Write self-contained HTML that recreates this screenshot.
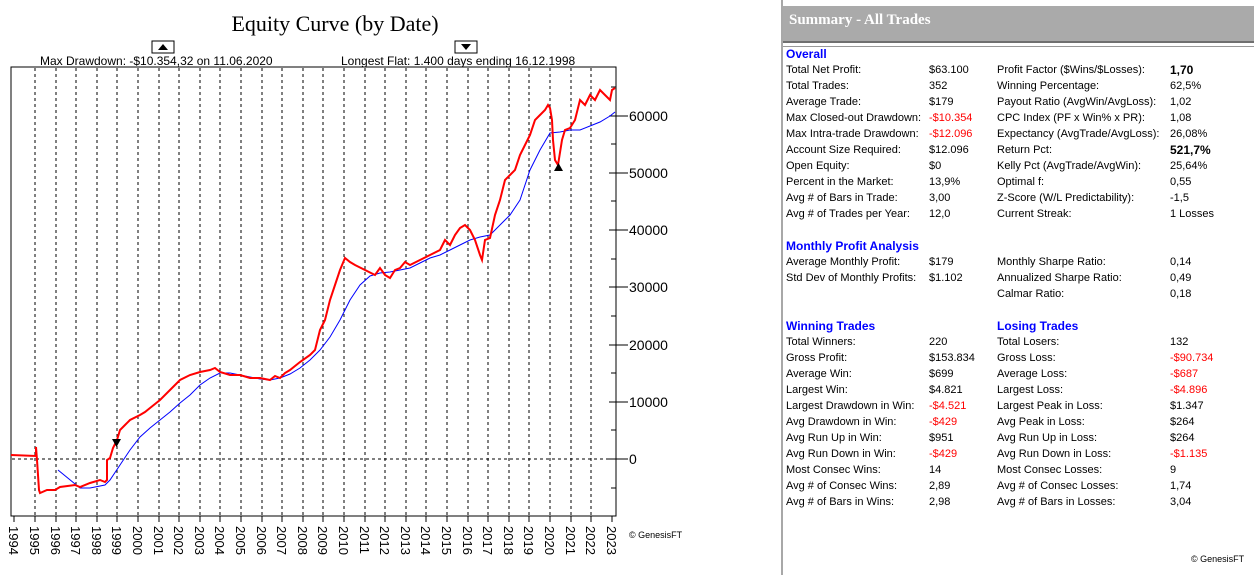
<!DOCTYPE html>
<html><head><meta charset="utf-8"><style>
body{margin:0;width:1254px;height:575px;background:#fff;position:relative;overflow:hidden;font-family:"Liberation Sans",sans-serif;}
.t{position:absolute;font-size:11px;color:#000;white-space:nowrap;line-height:13px}
.h{position:absolute;font-size:12px;font-weight:bold;color:#0000ff;white-space:nowrap;line-height:14px}
.r{color:#ff0000}
.b{font-weight:bold;font-size:12px}
</style></head><body>
<svg width="780" height="575" style="position:absolute;left:0;top:0" font-family="Liberation Sans, sans-serif">
<text x="335" y="31" font-family="Liberation Serif, serif" font-size="22" text-anchor="middle">Equity Curve (by Date)</text>
<rect x="152" y="41" width="22" height="12" fill="#fff" stroke="#000"/>
<polygon points="158,50 168,50 163,44" fill="#000"/>
<rect x="455" y="41" width="22" height="12" fill="#fff" stroke="#000"/>
<polygon points="461,44 471,44 466,50" fill="#000"/>
<text x="40" y="65" font-size="12">Max Drawdown: -$10.354,32 on 11.06.2020</text>
<text x="341" y="65" font-size="12">Longest Flat: 1.400 days ending 16.12.1998</text>
<rect x="11" y="67" width="605" height="449" fill="none" stroke="#000"/>
<g stroke="#000" stroke-dasharray="3,3" stroke-width="1">
<line x1="35" y1="68" x2="35" y2="516"/><line x1="56" y1="68" x2="56" y2="516"/><line x1="76" y1="68" x2="76" y2="516"/><line x1="97" y1="68" x2="97" y2="516"/><line x1="117" y1="68" x2="117" y2="516"/><line x1="138" y1="68" x2="138" y2="516"/><line x1="159" y1="68" x2="159" y2="516"/><line x1="179" y1="68" x2="179" y2="516"/><line x1="200" y1="68" x2="200" y2="516"/><line x1="220" y1="68" x2="220" y2="516"/><line x1="241" y1="68" x2="241" y2="516"/><line x1="262" y1="68" x2="262" y2="516"/><line x1="282" y1="68" x2="282" y2="516"/><line x1="303" y1="68" x2="303" y2="516"/><line x1="323" y1="68" x2="323" y2="516"/><line x1="344" y1="68" x2="344" y2="516"/><line x1="365" y1="68" x2="365" y2="516"/><line x1="385" y1="68" x2="385" y2="516"/><line x1="406" y1="68" x2="406" y2="516"/><line x1="426" y1="68" x2="426" y2="516"/><line x1="447" y1="68" x2="447" y2="516"/><line x1="468" y1="68" x2="468" y2="516"/><line x1="488" y1="68" x2="488" y2="516"/><line x1="509" y1="68" x2="509" y2="516"/><line x1="529" y1="68" x2="529" y2="516"/><line x1="550" y1="68" x2="550" y2="516"/><line x1="571" y1="68" x2="571" y2="516"/><line x1="591" y1="68" x2="591" y2="516"/><line x1="12" y1="459" x2="615" y2="459"/>
</g>
<g stroke="#000">
<line x1="609" y1="116" x2="628" y2="116"/><line x1="609" y1="173" x2="628" y2="173"/><line x1="609" y1="230" x2="628" y2="230"/><line x1="609" y1="287" x2="628" y2="287"/><line x1="609" y1="345" x2="628" y2="345"/><line x1="609" y1="402" x2="628" y2="402"/><line x1="609" y1="459" x2="628" y2="459"/>
<line x1="611" y1="87" x2="616" y2="87"/><line x1="611" y1="144" x2="616" y2="144"/><line x1="611" y1="201" x2="616" y2="201"/><line x1="611" y1="259" x2="616" y2="259"/><line x1="611" y1="316" x2="616" y2="316"/><line x1="611" y1="373" x2="616" y2="373"/><line x1="611" y1="430" x2="616" y2="430"/><line x1="611" y1="488" x2="616" y2="488"/>
</g>
<g font-size="14" text-anchor="start">
<text x="629" y="121">60000</text><text x="629" y="178">50000</text><text x="629" y="235">40000</text><text x="629" y="292">30000</text><text x="629" y="350">20000</text><text x="629" y="407">10000</text><text x="629" y="464">0</text>
</g>
<g stroke="#000"><line x1="14" y1="516" x2="14" y2="522"/><line x1="35" y1="516" x2="35" y2="522"/><line x1="56" y1="516" x2="56" y2="522"/><line x1="76" y1="516" x2="76" y2="522"/><line x1="97" y1="516" x2="97" y2="522"/><line x1="117" y1="516" x2="117" y2="522"/><line x1="138" y1="516" x2="138" y2="522"/><line x1="159" y1="516" x2="159" y2="522"/><line x1="179" y1="516" x2="179" y2="522"/><line x1="200" y1="516" x2="200" y2="522"/><line x1="220" y1="516" x2="220" y2="522"/><line x1="241" y1="516" x2="241" y2="522"/><line x1="262" y1="516" x2="262" y2="522"/><line x1="282" y1="516" x2="282" y2="522"/><line x1="303" y1="516" x2="303" y2="522"/><line x1="323" y1="516" x2="323" y2="522"/><line x1="344" y1="516" x2="344" y2="522"/><line x1="365" y1="516" x2="365" y2="522"/><line x1="385" y1="516" x2="385" y2="522"/><line x1="406" y1="516" x2="406" y2="522"/><line x1="426" y1="516" x2="426" y2="522"/><line x1="447" y1="516" x2="447" y2="522"/><line x1="468" y1="516" x2="468" y2="522"/><line x1="488" y1="516" x2="488" y2="522"/><line x1="509" y1="516" x2="509" y2="522"/><line x1="529" y1="516" x2="529" y2="522"/><line x1="550" y1="516" x2="550" y2="522"/><line x1="571" y1="516" x2="571" y2="522"/><line x1="591" y1="516" x2="591" y2="522"/><line x1="612" y1="516" x2="612" y2="522"/></g>
<g font-size="13">
<text transform="translate(9,526) rotate(90)">1994</text><text transform="translate(30,526) rotate(90)">1995</text><text transform="translate(51,526) rotate(90)">1996</text><text transform="translate(71,526) rotate(90)">1997</text><text transform="translate(92,526) rotate(90)">1998</text><text transform="translate(112,526) rotate(90)">1999</text><text transform="translate(133,526) rotate(90)">2000</text><text transform="translate(154,526) rotate(90)">2001</text><text transform="translate(174,526) rotate(90)">2002</text><text transform="translate(195,526) rotate(90)">2003</text><text transform="translate(215,526) rotate(90)">2004</text><text transform="translate(236,526) rotate(90)">2005</text><text transform="translate(257,526) rotate(90)">2006</text><text transform="translate(277,526) rotate(90)">2007</text><text transform="translate(298,526) rotate(90)">2008</text><text transform="translate(318,526) rotate(90)">2009</text><text transform="translate(339,526) rotate(90)">2010</text><text transform="translate(360,526) rotate(90)">2011</text><text transform="translate(380,526) rotate(90)">2012</text><text transform="translate(401,526) rotate(90)">2013</text><text transform="translate(421,526) rotate(90)">2014</text><text transform="translate(442,526) rotate(90)">2015</text><text transform="translate(463,526) rotate(90)">2016</text><text transform="translate(483,526) rotate(90)">2017</text><text transform="translate(504,526) rotate(90)">2018</text><text transform="translate(524,526) rotate(90)">2019</text><text transform="translate(545,526) rotate(90)">2020</text><text transform="translate(566,526) rotate(90)">2021</text><text transform="translate(586,526) rotate(90)">2022</text><text transform="translate(607,526) rotate(90)">2023</text>
</g>
<text x="629" y="538" font-size="9">© GenesisFT</text>
<polyline fill="none" stroke="#0000ff" stroke-width="1" points="58,470 80,488 90,488 105,485 110,480 120,465 130,450 140,437 150,428 160,420 170,412 180,403 190,395 200,385 210,378 220,373 230,373 240,375 250,377 260,379 270,380 280,378 290,374 300,368 310,360 320,350 330,337 340,320 350,300 360,285 370,276 380,273 390,272 400,270 410,268 420,263 430,258 440,255 450,250 460,245 470,240 480,237 490,235 500,225 510,215 520,200 530,170 540,150 550,133 560,132 570,130 580,130 590,126 600,122 610,116 615,112"/>
<polyline fill="none" stroke="#ff0000" stroke-width="2" points="11,455 36,456 36,447 37,460 39,490 40,493 47,490 55,490 60,487 75,485 80,487 90,483 100,480 105,482 107,480 107,460 110,458 113,448 117,440 120,430 125,425 130,420 140,415 145,412 150,408 160,400 170,390 175,385 180,380 190,375 200,372 210,370 215,368 220,372 230,375 240,375 250,378 260,378 270,380 275,376 280,378 285,373 290,370 300,362 310,355 315,350 320,330 325,320 330,300 335,285 340,270 345,258 350,262 355,265 365,270 375,275 380,268 385,275 390,278 395,270 400,268 405,262 410,265 420,260 430,255 440,250 445,240 450,245 455,235 460,228 465,225 470,230 475,240 480,255 482,260 485,240 490,238 495,215 500,200 505,180 510,175 515,170 520,155 525,145 530,135 535,120 540,115 545,110 548,105 550,108 552,120 553,140 555,160 558,165 562,140 565,130 570,128 575,120 580,100 585,105 590,95 595,100 600,90 605,95 610,100 612,90 615,88"/>
<polygon points="112,439 121,439 116.5,447" fill="#000"/>
<polygon points="554,171 563,171 558.5,163" fill="#000"/>
</svg>
<div style="position:absolute;left:781px;top:0;width:2px;height:575px;background:#a8a8a8"></div>
<div style="position:absolute;left:783px;top:6px;width:471px;height:35px;background:#aaaaaa;border-bottom:2px solid #707070"></div>
<div style="position:absolute;left:789px;top:12px;font-family:'Liberation Serif',serif;font-weight:bold;font-size:15px;color:#fff">Summary - All Trades</div>
<div style="position:absolute;left:783px;top:46px;width:471px;height:1px;background:#999"></div>
<div class="h" style="left:786px;top:47px">Overall</div>
<div class="t" style="left:786px;top:64px">Total Net Profit:</div><div class="t" style="left:929px;top:64px">$63.100</div><div class="t" style="left:997px;top:64px">Profit Factor ($Wins/$Losses):</div><div class="t b" style="left:1170px;top:64px">1,70</div>
<div class="t" style="left:786px;top:80px">Total Trades:</div><div class="t" style="left:929px;top:80px">352</div><div class="t" style="left:997px;top:80px">Winning Percentage:</div><div class="t" style="left:1170px;top:80px">62,5%</div>
<div class="t" style="left:786px;top:96px">Average Trade:</div><div class="t" style="left:929px;top:96px">$179</div><div class="t" style="left:997px;top:96px">Payout Ratio (AvgWin/AvgLoss):</div><div class="t" style="left:1170px;top:96px">1,02</div>
<div class="t" style="left:786px;top:112px">Max Closed-out Drawdown:</div><div class="t r" style="left:929px;top:112px">-$10.354</div><div class="t" style="left:997px;top:112px">CPC Index (PF x Win% x PR):</div><div class="t" style="left:1170px;top:112px">1,08</div>
<div class="t" style="left:786px;top:128px">Max Intra-trade Drawdown:</div><div class="t r" style="left:929px;top:128px">-$12.096</div><div class="t" style="left:997px;top:128px">Expectancy (AvgTrade/AvgLoss):</div><div class="t" style="left:1170px;top:128px">26,08%</div>
<div class="t" style="left:786px;top:144px">Account Size Required:</div><div class="t" style="left:929px;top:144px">$12.096</div><div class="t" style="left:997px;top:144px">Return Pct:</div><div class="t b" style="left:1170px;top:144px">521,7%</div>
<div class="t" style="left:786px;top:160px">Open Equity:</div><div class="t" style="left:929px;top:160px">$0</div><div class="t" style="left:997px;top:160px">Kelly Pct (AvgTrade/AvgWin):</div><div class="t" style="left:1170px;top:160px">25,64%</div>
<div class="t" style="left:786px;top:176px">Percent in the Market:</div><div class="t" style="left:929px;top:176px">13,9%</div><div class="t" style="left:997px;top:176px">Optimal f:</div><div class="t" style="left:1170px;top:176px">0,55</div>
<div class="t" style="left:786px;top:192px">Avg # of Bars in Trade:</div><div class="t" style="left:929px;top:192px">3,00</div><div class="t" style="left:997px;top:192px">Z-Score (W/L Predictability):</div><div class="t" style="left:1170px;top:192px">-1,5</div>
<div class="t" style="left:786px;top:208px">Avg # of Trades per Year:</div><div class="t" style="left:929px;top:208px">12,0</div><div class="t" style="left:997px;top:208px">Current Streak:</div><div class="t" style="left:1170px;top:208px">1 Losses</div>
<div class="h" style="left:786px;top:239px">Monthly Profit Analysis</div>
<div class="t" style="left:786px;top:256px">Average Monthly Profit:</div><div class="t" style="left:929px;top:256px">$179</div><div class="t" style="left:997px;top:256px">Monthly Sharpe Ratio:</div><div class="t" style="left:1170px;top:256px">0,14</div>
<div class="t" style="left:786px;top:272px">Std Dev of Monthly Profits:</div><div class="t" style="left:929px;top:272px">$1.102</div><div class="t" style="left:997px;top:272px">Annualized Sharpe Ratio:</div><div class="t" style="left:1170px;top:272px">0,49</div>
<div class="t" style="left:997px;top:288px">Calmar Ratio:</div><div class="t" style="left:1170px;top:288px">0,18</div>
<div class="h" style="left:786px;top:319px">Winning Trades</div><div class="h" style="left:997px;top:319px">Losing Trades</div>
<div class="t" style="left:786px;top:336px">Total Winners:</div><div class="t" style="left:929px;top:336px">220</div><div class="t" style="left:997px;top:336px">Total Losers:</div><div class="t" style="left:1170px;top:336px">132</div>
<div class="t" style="left:786px;top:352px">Gross Profit:</div><div class="t" style="left:929px;top:352px">$153.834</div><div class="t" style="left:997px;top:352px">Gross Loss:</div><div class="t r" style="left:1170px;top:352px">-$90.734</div>
<div class="t" style="left:786px;top:368px">Average Win:</div><div class="t" style="left:929px;top:368px">$699</div><div class="t" style="left:997px;top:368px">Average Loss:</div><div class="t r" style="left:1170px;top:368px">-$687</div>
<div class="t" style="left:786px;top:384px">Largest Win:</div><div class="t" style="left:929px;top:384px">$4.821</div><div class="t" style="left:997px;top:384px">Largest Loss:</div><div class="t r" style="left:1170px;top:384px">-$4.896</div>
<div class="t" style="left:786px;top:400px">Largest Drawdown in Win:</div><div class="t r" style="left:929px;top:400px">-$4.521</div><div class="t" style="left:997px;top:400px">Largest Peak in Loss:</div><div class="t" style="left:1170px;top:400px">$1.347</div>
<div class="t" style="left:786px;top:416px">Avg Drawdown in Win:</div><div class="t r" style="left:929px;top:416px">-$429</div><div class="t" style="left:997px;top:416px">Avg Peak in Loss:</div><div class="t" style="left:1170px;top:416px">$264</div>
<div class="t" style="left:786px;top:432px">Avg Run Up in Win:</div><div class="t" style="left:929px;top:432px">$951</div><div class="t" style="left:997px;top:432px">Avg Run Up in Loss:</div><div class="t" style="left:1170px;top:432px">$264</div>
<div class="t" style="left:786px;top:448px">Avg Run Down in Win:</div><div class="t r" style="left:929px;top:448px">-$429</div><div class="t" style="left:997px;top:448px">Avg Run Down in Loss:</div><div class="t r" style="left:1170px;top:448px">-$1.135</div>
<div class="t" style="left:786px;top:464px">Most Consec Wins:</div><div class="t" style="left:929px;top:464px">14</div><div class="t" style="left:997px;top:464px">Most Consec Losses:</div><div class="t" style="left:1170px;top:464px">9</div>
<div class="t" style="left:786px;top:480px">Avg # of Consec Wins:</div><div class="t" style="left:929px;top:480px">2,89</div><div class="t" style="left:997px;top:480px">Avg # of Consec Losses:</div><div class="t" style="left:1170px;top:480px">1,74</div>
<div class="t" style="left:786px;top:496px">Avg # of Bars in Wins:</div><div class="t" style="left:929px;top:496px">2,98</div><div class="t" style="left:997px;top:496px">Avg # of Bars in Losses:</div><div class="t" style="left:1170px;top:496px">3,04</div>
<div class="t" style="left:1191px;top:553px;font-size:9px">© GenesisFT</div>
</body></html>
